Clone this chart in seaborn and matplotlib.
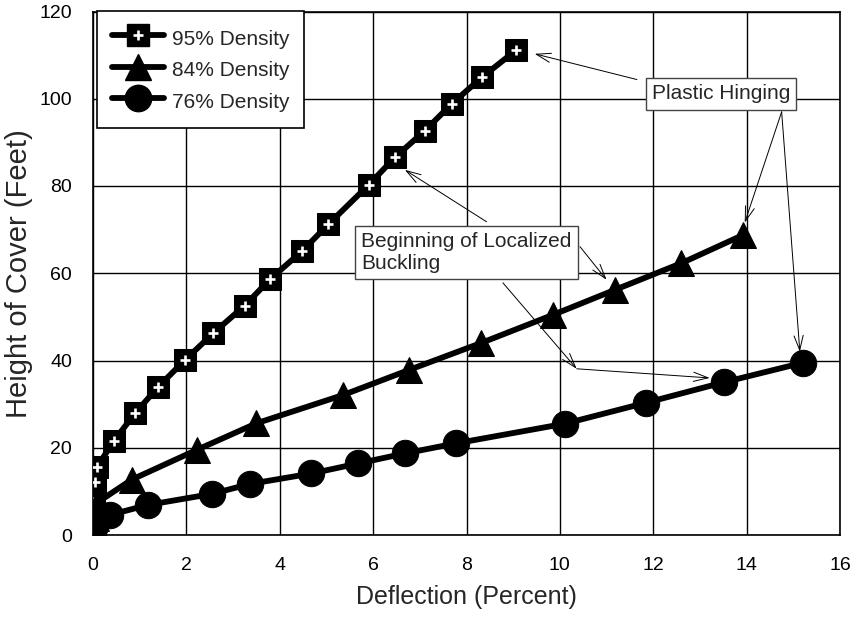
import numpy as np
import pandas as pd
import matplotlib
matplotlib.use("Agg")
import matplotlib.pyplot as plt
import seaborn as sns
from matplotlib.lines import Line2D
from matplotlib.legend_handler import HandlerTuple

# ---- data ----
x95 = [0.0, 0.02, 0.03, 0.04, 0.08, 0.45, 0.90, 1.40, 1.97, 2.58, 3.25, 3.80, 4.47, 5.04, 5.91, 6.47, 7.11, 7.69, 8.34, 9.07]
y95 = [0.0, 3.0, 7.5, 12.2, 15.5, 21.6, 27.9, 34.0, 40.1, 46.3, 52.6, 58.7, 65.0, 71.2, 80.3, 86.6, 92.7, 98.9, 105.0, 111.2]

x84 = [0.0, 0.06, 0.10, 0.83, 2.22, 3.50, 5.36, 6.76, 8.31, 9.86, 11.18, 12.60, 13.93]
y84 = [0.0, 4.0, 7.5, 12.7, 19.5, 25.6, 32.1, 37.8, 44.0, 50.5, 56.2, 62.3, 68.8]

x76 = [0.0, 0.05, 0.36, 1.18, 2.54, 3.36, 4.68, 5.68, 6.68, 7.77, 10.10, 11.84, 13.51, 15.21]
y76 = [0.0, 2.0, 4.6, 6.9, 9.4, 11.7, 14.1, 16.4, 18.7, 21.0, 25.5, 30.3, 35.0, 39.5]

labels = ["95% Density", "84% Density", "76% Density"]
xticks = [0, 2, 4, 6, 8, 10, 12, 14, 16]
yticks = [0, 20, 40, 60, 80, 100, 120]

sns.set_style("white")
plt.rcParams["font.family"] = ["Liberation Sans", "DejaVu Sans"]

fig = plt.figure(figsize=(8.56, 6.18), dpi=100)
ax = fig.add_axes([93 / 856, 1 - 535 / 618, 747 / 856, (535 - 11.5) / 618])

LW = 4.2
common = dict(estimator=None, sort=False, legend=False, ax=ax, color="black",
              linewidth=LW, markeredgecolor="black")

sns.lineplot(x=x95, y=y95, marker="s", markersize=15.5, zorder=3, **common)
sns.scatterplot(x=x95, y=y95, marker="+", color="white", s=55, linewidth=1.9,
                zorder=4, legend=False, ax=ax)
sns.lineplot(x=x84, y=y84, marker="^", markersize=18.5, zorder=5, **common)
sns.lineplot(x=x76, y=y76, marker="o", markersize=19, zorder=6, **common)

ax.set_xlim(0, 16)
ax.set_ylim(0, 120)
ax.set_xticks(xticks)
ax.set_yticks(yticks)
ax.set_xticklabels([str(v) for v in xticks])
ax.set_yticklabels([str(v) for v in yticks])
ax.grid(True, color="black", linewidth=1.0, zorder=0)
ax.set_axisbelow(True)
for s in ax.spines.values():
    s.set_visible(True)
    s.set_color("black")
    s.set_linewidth(1.2)
ax.tick_params(axis="both", direction="out", length=7, width=1, color="black",
               labelsize=14, labelcolor="black")
ax.tick_params(axis="x", pad=9)
ax.tick_params(axis="y", pad=8)
ax.set_xlabel("Deflection (Percent)", fontsize=18, labelpad=8)
ax.set_ylabel("Height of Cover (Feet)", fontsize=21, labelpad=5)

# ---- legend ----
h95 = (Line2D([], [], color="black", lw=LW, marker="s", markersize=15.5),
       Line2D([], [], color="white", lw=0, marker="+", markersize=7.5, markeredgewidth=1.9))
h84 = Line2D([], [], color="black", lw=LW, marker="^", markersize=18.5)
h76 = Line2D([], [], color="black", lw=LW, marker="o", markersize=19)
leg = ax.legend([h95, h84, h76], labels, handler_map={tuple: HandlerTuple(ndivide=1)},
                loc="upper left", bbox_to_anchor=(4 / 747, 1.001), borderaxespad=0,
                fontsize=15, frameon=True, fancybox=False, edgecolor="black",
                framealpha=1, handlelength=2.5, handleheight=1.5, handletextpad=0.4,
                labelspacing=0.28, borderpad=0.7)
leg.get_frame().set_linewidth(1.2)
leg.set_zorder(10)

# ---- annotations ----
box = dict(boxstyle="square,pad=0.3", fc="white", ec="#444444", lw=1.0)
ax.text(13.45, 101.1, "Plastic Hinging", fontsize=15, ha="center", va="center",
        bbox=box, zorder=9)
ax.text(5.74, 64.8, "Beginning of Localized\nBuckling", fontsize=15, ha="left",
        va="center", linespacing=1.2, bbox=box, zorder=9)

arrow = dict(arrowstyle="->,head_length=0.7,head_width=0.22", color="black", lw=0.7,
             shrinkA=0, shrinkB=0, mutation_scale=15)
arrows = [
    ((11.65, 104.4), (9.46, 110.3)),
    ((14.75, 97.0), (13.96, 71.6)),
    ((14.75, 97.0), (15.14, 42.0)),
    ((8.43, 71.8), (6.68, 83.7)),
    ((10.43, 66.1), (11.00, 58.5)),
    ((8.78, 57.8), (10.36, 38.1)),
    ((10.36, 38.1), (13.21, 36.0)),
]
for start, tip in arrows:
    ax.annotate("", xy=tip, xytext=start, arrowprops=arrow, zorder=8)

fig.savefig("out.png", dpi=100)
